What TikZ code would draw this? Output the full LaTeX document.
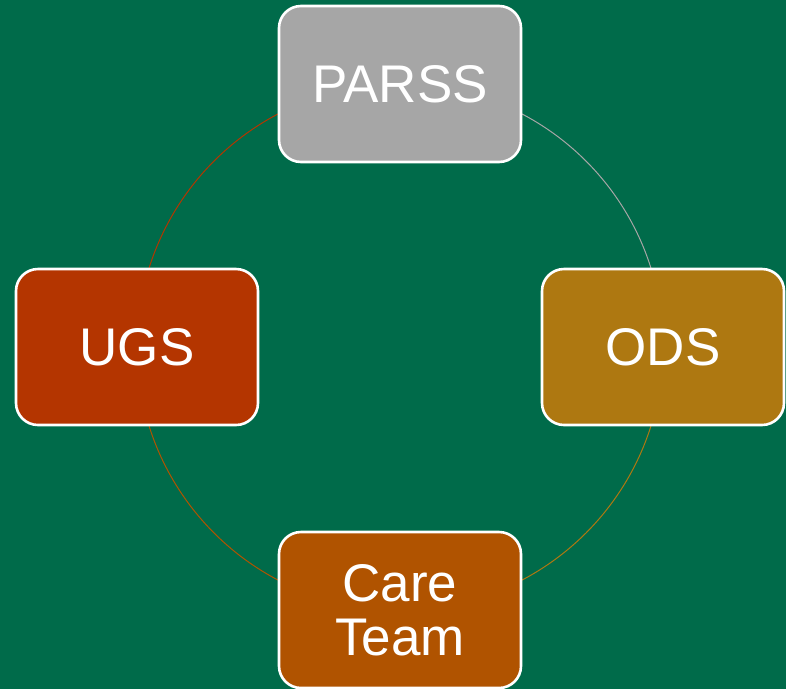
\documentclass[tikz,border=0pt]{standalone}
\usepackage{fontspec}
\setmainfont{Liberation Sans}
\definecolor{bggreen}{HTML}{006B4A}
\definecolor{parssgray}{HTML}{A6A6A6}
\definecolor{odsgold}{HTML}{AE7811}
\definecolor{ugsred}{HTML}{B43500}
\definecolor{careorange}{HTML}{B05300}
\begin{document}
\begin{tikzpicture}[x=1pt,y=-1pt,
  unitbox/.style={draw=white, line width=2.6pt, rounded corners=22pt,
    minimum width=242pt, minimum height=156pt, inner sep=0pt,
    text=white, align=center, font=\fontsize{53}{54}\selectfont},
  ring/.style={line width=1pt}]
  \fill[bggreen] (0,0) rectangle (786,689);
  \useasboundingbox (0,0) rectangle (786,689);
  \coordinate (c) at (400,347);
  % ring segments, one colour per quarter
  \draw[ring, parssgray] (c) ++(0:263) arc[start angle=0, end angle=-90, radius=263];
  \draw[ring, odsgold] (c) ++(0:263) arc[start angle=0, end angle=90, radius=263];
  \draw[ring, careorange] (c) ++(90:263) arc[start angle=90, end angle=180, radius=263];
  \draw[ring, ugsred] (c) ++(180:263) arc[start angle=180, end angle=270, radius=263];
  % units
  \node[unitbox, fill=parssgray] (parss) at (400,84) {PARSS};
  \node[unitbox, fill=odsgold] (ods) at (663,347) {ODS};
  \node[unitbox, fill=ugsred] (ugs) at (137,347) {UGS};
  \node[unitbox, fill=careorange] (care) at (400,610) {Care\\Team};
\end{tikzpicture}
\end{document}
